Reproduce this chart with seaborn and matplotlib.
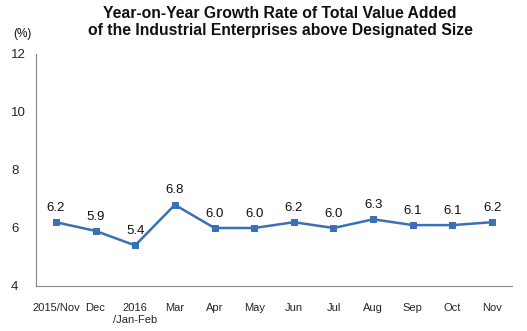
import matplotlib
matplotlib.use("Agg")
import matplotlib.pyplot as plt
import seaborn as sns
import pandas as pd
from matplotlib.ticker import FixedLocator

categories = ["2015/Nov", "Dec", "2016\n/Jan-Feb", "Mar", "Apr", "May", "Jun", "Jul", "Aug", "Sep", "Oct", "Nov"]
values = [6.2, 5.9, 5.4, 6.8, 6.0, 6.0, 6.2, 6.0, 6.3, 6.1, 6.1, 6.2]
yticks = [4, 6, 8, 10, 12]

sns.set_theme(style="white")
plt.rcParams['font.family'] = ['Liberation Sans', 'DejaVu Sans']

df = pd.DataFrame({"x": list(range(len(categories))), "v": values})

fig = plt.figure(figsize=(5.27, 3.31), dpi=100)
ax = fig.add_axes([36/527, 1-286/331, (512-36)/527, (286-54)/331])
color = "#3B6FB6"
sns.lineplot(data=df, x="x", y="v", ax=ax, color=color, linewidth=1.8,
             marker="s", markersize=5, markeredgecolor=color, markerfacecolor=color)

for i, v in enumerate(values):
    ax.annotate(f"{v:.1f}", (i, v), xytext=(0, 6), textcoords="offset points",
                ha="center", va="bottom", fontsize=9.5, color="#111111")

ax.set_xlim(-0.5, len(categories) - 0.5)
ax.set_ylim(4, 12)
ax.set_yticks(yticks)
ax.set_yticklabels([str(t) for t in yticks], fontsize=9.5)
ax.set_xticks(range(len(categories)))
ax.set_xticklabels(categories, fontsize=8, linespacing=1.35)
ax.xaxis.set_minor_locator(FixedLocator([i + 0.5 for i in range(len(categories))]))
ax.tick_params(axis="x", which="major", length=0, pad=12)
ax.tick_params(axis="x", which="minor", length=3, direction="in", color="#888888", width=0.8)
ax.tick_params(axis="y", which="major", length=3, direction="in", color="#888888", width=0.8, pad=18)
for lab in ax.get_yticklabels():
    lab.set_horizontalalignment("left")
ax.set_xlabel("")
ax.set_ylabel("")
ax.grid(False)
for s in ["top", "right"]:
    ax.spines[s].set_visible(False)
for s in ["left", "bottom"]:
    ax.spines[s].set_color("#888888")
    ax.spines[s].set_linewidth(0.8)

fig.text(280/527, 1-13/331, "Year-on-Year Growth Rate of Total Value Added",
         ha="center", va="center", fontsize=11.3, fontweight="bold", color="#111111")
fig.text(280/527, 1-31/331, "of the Industrial Enterprises above Designated Size",
         ha="center", va="center", fontsize=11.3, fontweight="bold", color="#111111")
fig.text(22/527, 1-34/331, "(%)", ha="center", va="center", fontsize=8.5, color="#111111")

fig.savefig("out.png", dpi=100)
